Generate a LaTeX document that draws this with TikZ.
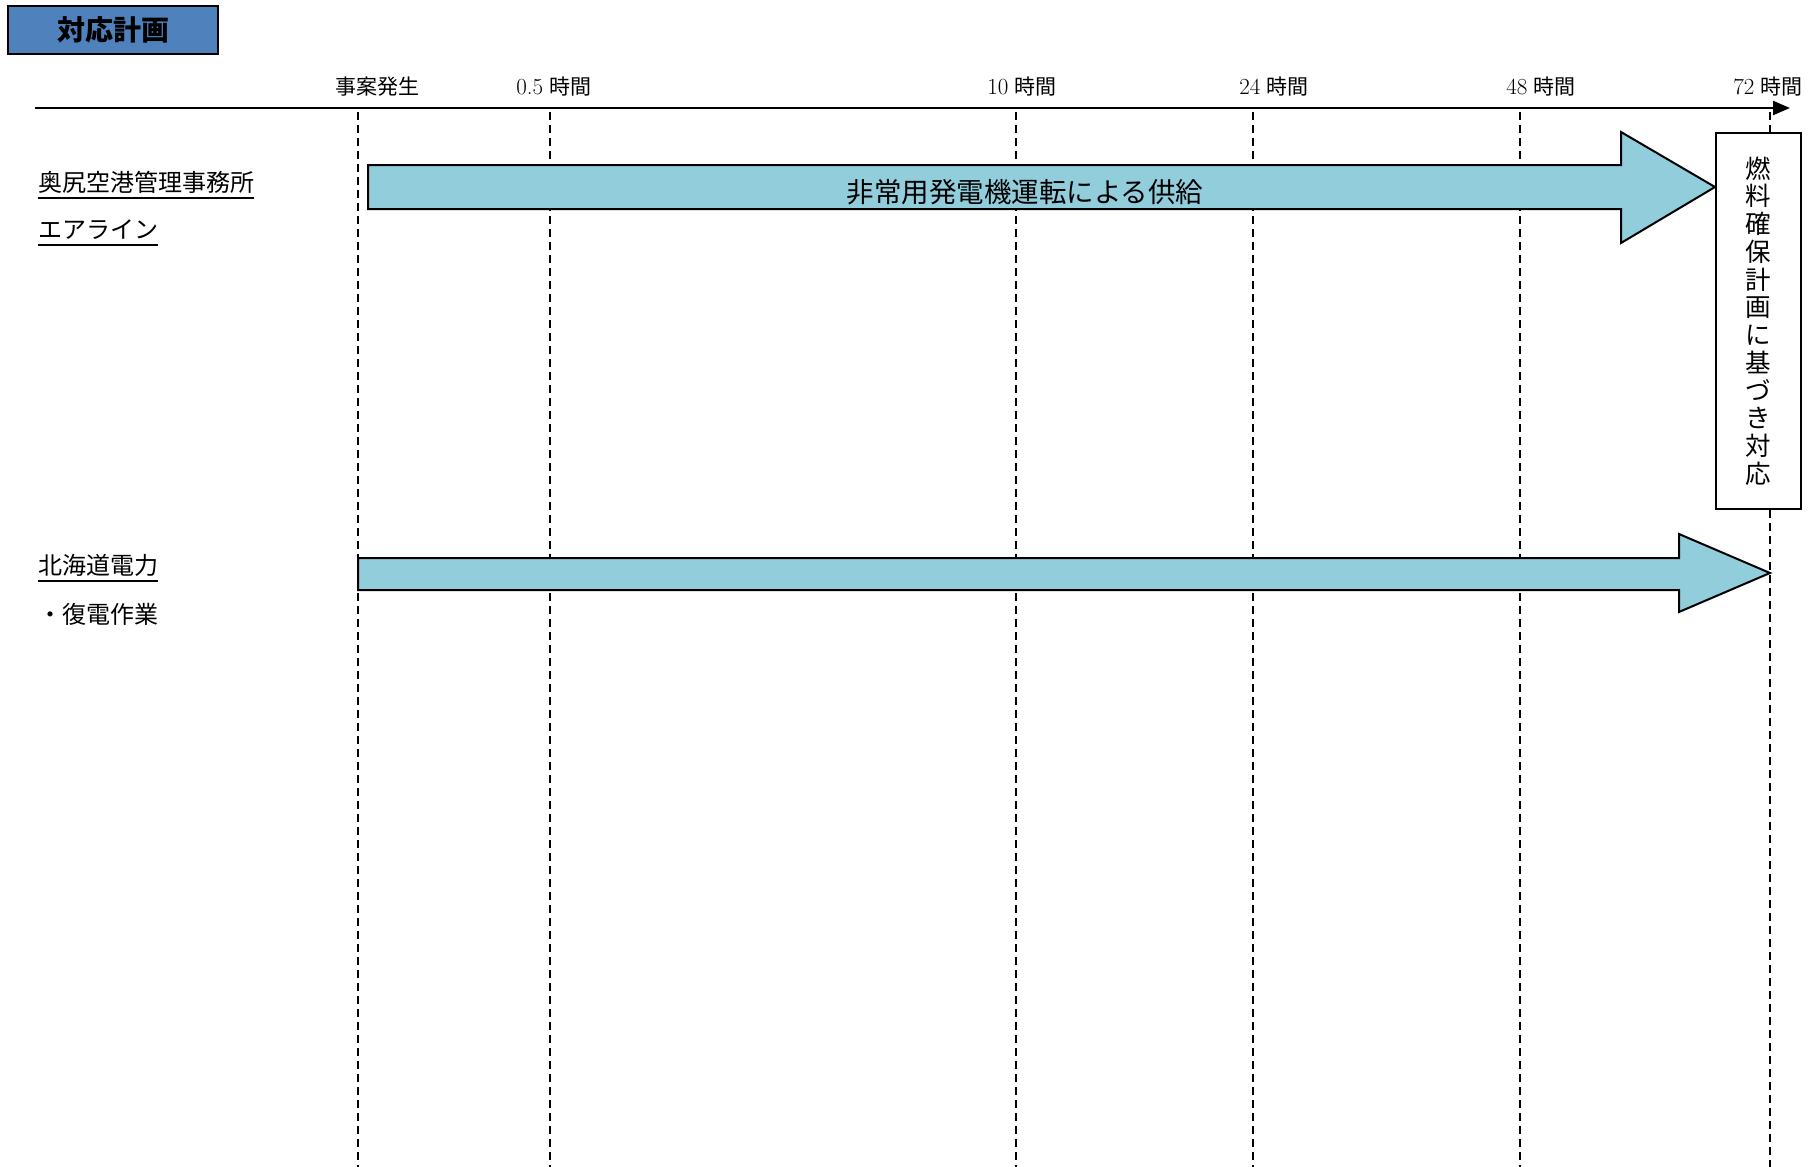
\documentclass[tikz,border=0pt]{standalone}
\usepackage{fontspec}
\newfontfamily\cjk{Noto Sans CJK JP}
\usetikzlibrary{arrows.meta}
\definecolor{titleblue}{HTML}{4F81BD}
\definecolor{arrowcyan}{HTML}{92CDDC}
\newcommand{\hrs}[1]{{\fontsize{23}{24}\selectfont #1}\hspace{0.3em}{\cjk 時間}}
\tikzset{
  ticklabel/.style={inner sep=0pt, font=\fontsize{21}{23}\selectfont},
  timeline/.style={line width=1.8pt, dash pattern=on 8pt off 5pt},
  rowlabel/.style={anchor=west, inner sep=0pt, text height=19pt, text depth=4pt, font=\cjk\fontsize{24}{26}\selectfont},
  uline/.style={line width=1.8pt},
  bigarrow/.style={draw, line width=2pt, fill=arrowcyan, line join=miter},
}
\begin{document}
\begin{tikzpicture}[x=1pt,y=-1pt]
\useasboundingbox (0,0) rectangle (1818,1167);

% title
\node[draw, line width=2pt, fill=titleblue, minimum width=210pt, minimum height=48pt, inner sep=0pt,
      font=\cjk\bfseries\fontsize{28}{30}\selectfont] (title) at (113,30) {対応計画};

% time axis
\coordinate (axS) at (35,108);
\coordinate (axE) at (1790,108);
\draw[line width=2.2pt, -{Triangle[length=17pt,width=14pt]}] (axS) -- (axE);

% tick labels
\node[ticklabel] (t0) at (377,87) {\cjk 事案発生};
\node[ticklabel] (t1) at (554,87) {\hrs{0.5}};
\node[ticklabel] (t2) at (1022,87) {\hrs{10}};
\node[ticklabel] (t3) at (1274,87) {\hrs{24}};
\node[ticklabel] (t4) at (1541,87) {\hrs{48}};
\node[ticklabel] (t5) at (1768,87) {\hrs{72}};

% fuel box
\node[draw, line width=2pt, fill=white, minimum width=85pt, minimum height=376pt, inner sep=0pt, align=center,
      font=\cjk\fontsize{25.5}{27.75}\selectfont] (fuel) at (1758.5,321)
  {燃\\料\\確\\保\\計\\画\\に\\基\\づ\\き\\対\\応};

% dashed time lines
\foreach \n/\x in {a/358, b/550, c/1016, d/1253, e/1520} {
  \coordinate (\n top) at (\x,112);
  \coordinate (\n bot) at (\x,1167);
  \draw[timeline] (\n top) -- (\n bot);
}
\coordinate (ftop) at (1770,112);
\coordinate (fbot) at (1770,1167);
\draw[timeline] (ftop) -- (ftop |- fuel.north);
\draw[timeline] (ftop |- fuel.south) -- (fbot);

% arrow 1
\draw[bigarrow] (368,165) -- (1621,165) -- (1621,132) -- (fuel.west |- 0,187) -- (1621,243) -- (1621,209) -- (368,209) -- cycle;
\node[inner sep=0pt, font=\cjk\fontsize{27.5}{29}\selectfont] (supply) at (1025,192) {非常用発電機運転による供給};

% arrow 2
\draw[bigarrow] (358,558) -- (1679,558) -- (1679,534) -- (1770,573) -- (1679,612) -- (1679,590) -- (358,590) -- cycle;

% row labels
\node[rowlabel] (l1) at (38,184) {奥尻空港管理事務所};
\draw[uline] ([yshift=-2pt]l1.south west) -- ([yshift=-2pt]l1.south east);
\node[rowlabel] (l2) at (38,231) {エアライン};
\draw[uline] ([yshift=-2pt]l2.south west) -- ([yshift=-2pt]l2.south east);
\node[rowlabel] (l3) at (38,567) {北海道電力};
\draw[uline] ([yshift=-2pt]l3.south west) -- ([yshift=-2pt]l3.south east);
\node[rowlabel] (l4) at (38,616) {・復電作業};
\end{tikzpicture}
\end{document}
